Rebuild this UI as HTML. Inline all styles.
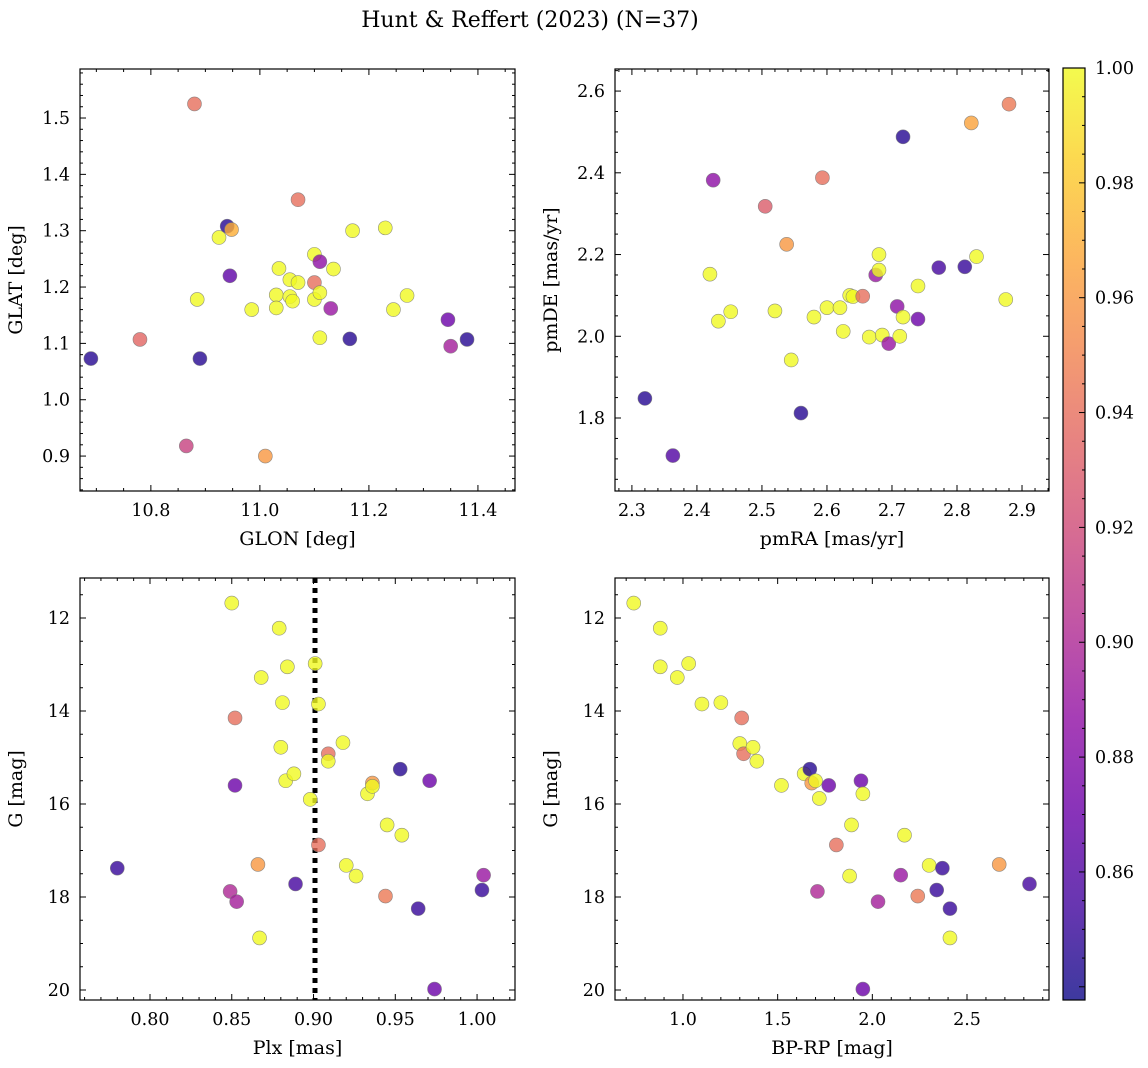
<!DOCTYPE html>
<html><head><meta charset="utf-8"><style>
html,body{margin:0;padding:0;background:#fff;}
svg{display:block;font-family:"DejaVu Serif","Liberation Serif",serif;}
</style></head><body>
<svg id="fig" width="1148" height="1068" viewBox="0 0 1148 1068" xmlns="http://www.w3.org/2000/svg">
<text x="530" y="27" font-size="22" text-anchor="middle">Hunt &amp; Reffert (2023) (N=37)</text>
</svg>
<script>
const glonX=[10.69,10.78,10.865,10.88,10.885,10.89,10.925,10.94,10.948,10.945,10.985,11.01,11.03,11.03,11.035,11.055,11.055,11.06,11.07,11.07,11.10,11.10,11.10,11.11,11.11,11.11,11.13,11.135,11.165,11.17,11.23,11.245,11.27,11.345,11.35,11.38];
const glatY=[1.073,1.107,0.918,1.525,1.178,1.073,1.288,1.308,1.302,1.220,1.160,0.900,1.186,1.163,1.233,1.183,1.213,1.175,1.355,1.208,1.208,1.178,1.258,1.245,1.190,1.110,1.162,1.232,1.108,1.300,1.305,1.160,1.185,1.142,1.095,1.107];
const probA=[0.845,0.935,0.915,0.94,1,0.845,1,0.845,0.97,0.865,1,0.96,1,1,1,1,1,1,0.94,1,0.94,1,1,0.885,1,1,0.89,1,0.845,1,1,1,1,0.87,0.895,0.845];

const pmraX=[2.32,2.363,2.42,2.425,2.433,2.452,2.505,2.52,2.538,2.545,2.56,2.58,2.593,2.60,2.62,2.625,2.635,2.64,2.655,2.665,2.675,2.68,2.68,2.685,2.695,2.708,2.712,2.717,2.717,2.740,2.740,2.772,2.812,2.822,2.83,2.875,2.880];
const pmdeY=[1.848,1.708,2.152,2.382,2.037,2.060,2.318,2.062,2.225,1.942,1.812,2.047,2.388,2.070,2.070,2.012,2.100,2.097,2.098,1.998,2.150,2.200,2.162,2.003,1.982,2.073,2.000,2.488,2.047,2.123,2.042,2.168,2.170,2.522,2.195,2.090,2.568];
const probB=[0.845,0.86,1,0.885,1,1,0.93,1,0.96,1,0.845,1,0.94,1,1,1,1,1,0.94,1,0.89,1,1,1,0.89,0.885,1,0.845,1,1,0.87,0.855,0.85,0.965,1,1,0.945];

const plxX=[0.780,0.850,0.849,0.852,0.852,0.853,0.866,0.867,0.868,0.879,0.880,0.881,0.883,0.884,0.888,0.889,0.898,0.901,0.903,0.903,0.909,0.909,0.918,0.920,0.926,0.933,0.936,0.936,0.944,0.945,0.953,0.954,0.964,0.971,0.974,1.003,1.004];
const gmagC=[17.38,11.68,17.88,14.15,15.60,18.10,17.30,18.88,13.28,12.22,14.78,13.82,15.50,13.05,15.35,17.72,15.90,12.98,13.85,16.88,14.92,15.08,14.68,17.32,17.55,15.78,15.55,15.62,17.98,16.45,15.25,16.67,18.25,15.50,19.98,17.85,17.53];
const probC=[0.85,1,0.9,0.94,0.87,0.895,0.96,1,1,1,1,1,1,1,1,0.855,1,1,1,0.94,0.94,1,1,1,1,1,0.96,1,0.945,1,0.845,1,0.85,0.87,0.87,0.85,0.89];
const plxMedian=0.9009;

const bprpX=[0.74,0.88,0.88,0.97,1.03,1.10,1.20,1.31,1.30,1.32,1.37,1.39,1.52,1.64,1.67,1.68,1.70,1.72,1.71,1.77,1.81,1.88,1.89,1.94,1.95,1.95,2.03,2.15,2.17,2.24,2.30,2.34,2.37,2.41,2.41,2.67,2.83];
const gmagD=[11.68,12.22,13.05,13.28,12.98,13.85,13.82,14.15,14.70,14.92,14.78,15.08,15.60,15.35,15.25,15.55,15.50,15.88,17.88,15.60,16.88,17.55,16.45,15.50,15.78,19.98,18.10,17.53,16.67,17.98,17.32,17.85,17.38,18.25,18.88,17.30,17.72];
const probD=[1,1,1,1,1,1,1,0.94,1,0.94,1,1,1,1,0.845,0.96,1,1,0.9,0.87,0.94,1,1,0.87,1,0.87,0.895,0.89,1,0.945,1,0.85,0.85,0.85,1,0.96,0.855];

const cbTicks=[0.86,0.88,0.90,0.92,0.94,0.96,0.98,1.00];
const CMIN=0.8377,CMAX=1.0;
const NS="http://www.w3.org/2000/svg";
const svg=document.getElementById('fig');
const stops=["#0d0887","#41049d","#6a00a8","#8f0da4","#b12a90","#cc4778","#e16462","#f2844b","#fca636","#fcce25","#f0f921"];
function hex(h){return [1,3,5].map(i=>parseInt(h.substr(i,2),16));}
function plasma(c){let t=(c-CMIN)/(CMAX-CMIN);t=Math.max(0,Math.min(1,t));const p=t*10,i=Math.min(9,Math.floor(p)),f=p-i;const a=hex(stops[i]),b=hex(stops[i+1]);return 'rgb('+a.map((v,k)=>Math.round(v+(b[k]-v)*f)).join(',')+')';}
function el(tag,attrs,parent){const e=document.createElementNS(NS,tag);for(const k in attrs)e.setAttribute(k,attrs[k]);(parent||svg).appendChild(e);return e;}
function fmt(v,d){return v.toFixed(d);}

function panel(o){
  const g=el('g',{});
  
  
  const sx=v=>o.x0+(v-o.xmin)/(o.xmax-o.xmin)*(o.x1-o.x0);
  const sy=o.invert? v=>o.y0+(v-o.ymin)/(o.ymax-o.ymin)*(o.y1-o.y0) : v=>o.y1-(v-o.ymin)/(o.ymax-o.ymin)*(o.y1-o.y0);
  function ticksAxis(step,nsub,min,max,isX,dec){
    const tg=el('g',{},g);
    
    
    const ms=step/nsub;
    const start=Math.ceil(min/ms-1e-6);
    for(let k=start;k*ms<=max+1e-9;k++){
      const v=k*ms;const major=Math.abs(k%nsub)===0;const L=major?6:3;
      if(isX){const x=sx(v);
        el('line',{x1:x,x2:x,y1:o.y1,y2:o.y1-L,stroke:'#000','stroke-width':1},tg);
        el('line',{x1:x,x2:x,y1:o.y0,y2:o.y0+L,stroke:'#000','stroke-width':1},tg);
        if(major){const t=el('text',{x:x,y:o.y1+25,'font-size':17.5,'text-anchor':'middle'},tg);t.textContent=fmt(v,dec);}
      }else{const y=sy(v);
        el('line',{y1:y,y2:y,x1:o.x0,x2:o.x0+L,stroke:'#000','stroke-width':1},tg);
        el('line',{y1:y,y2:y,x1:o.x1,x2:o.x1-L,stroke:'#000','stroke-width':1},tg);
        if(major){const t=el('text',{x:o.x0-10,y:y+6,'font-size':17.5,'text-anchor':'end'},tg);t.textContent=fmt(v,dec);}
      }
    }
  }
  ticksAxis(o.xstep,o.xsub,o.xmin,o.xmax,true,o.xdec);
  ticksAxis(o.ystep,o.ysub,Math.min(o.ymin,o.ymax),Math.max(o.ymin,o.ymax),false,o.ydec);
  if(o.vline!==undefined){
    const l=el('line',{x1:sx(o.vline),x2:sx(o.vline),y1:o.y0,y2:o.y1,stroke:'#000','stroke-width':5,'stroke-dasharray':'5,5'},g);
    
    
  }
  for(let i=0;i<o.xs.length;i++){
    const c=el('circle',{cx:sx(o.xs[i]),cy:sy(o.ys[i]),r:7,fill:plasma(o.cs[i]),'fill-opacity':0.8,stroke:'#777','stroke-width':0.6,'stroke-opacity':0.8},g);
    
    
  }
  const fr=el('rect',{x:o.x0,y:o.y0,width:o.x1-o.x0,height:o.y1-o.y0,fill:'none',stroke:'#000','stroke-width':1.2},g);
  
  
  const xt=el('text',{x:(o.x0+o.x1)/2,y:o.y1+54,'font-size':19,'text-anchor':'middle'},g);
  xt.textContent=o.xlabel;
  
  
  const yx=o.x0-58,yy=(o.y0+o.y1)/2;
  const yt=el('text',{x:yx,y:yy,'font-size':19,'text-anchor':'middle',transform:'rotate(-90 '+yx+' '+yy+')'},g);
  yt.textContent=o.ylabel;
  
  
}

panel({name:'glon-glat-panel',x0:80,x1:515,y0:69,y1:491,xmin:10.67,xmax:11.468,ymin:0.838,ymax:1.587,xstep:0.2,xsub:4,ystep:0.1,ysub:5,xdec:1,ydec:1,xs:glonX,ys:glatY,cs:probA,xlabel:'GLON [deg]',ylabel:'GLAT [deg]'});
panel({name:'proper-motion-panel',x0:615,x1:1049,y0:69,y1:491,xmin:2.274,xmax:2.9415,ymin:1.6214,ymax:2.654,xstep:0.1,xsub:5,ystep:0.2,ysub:4,xdec:1,ydec:1,xs:pmraX,ys:pmdeY,cs:probB,xlabel:'pmRA [mas/yr]',ylabel:'pmDE [mas/yr]'});
panel({name:'parallax-magnitude-panel',x0:80,x1:515,y0:578,y1:1000,xmin:0.7572,xmax:1.0232,ymin:11.14,ymax:20.215,invert:true,xstep:0.05,xsub:5,ystep:2,ysub:4,xdec:2,ydec:0,xs:plxX,ys:gmagC,cs:probC,xlabel:'Plx [mas]',ylabel:'G [mag]',vline:plxMedian});
panel({name:'color-magnitude-panel',x0:615,x1:1049,y0:578,y1:1000,xmin:0.641,xmax:2.933,ymin:11.14,ymax:20.215,invert:true,xstep:0.5,xsub:5,ystep:2,ysub:4,xdec:1,ydec:0,xs:bprpX,ys:gmagD,cs:probD,xlabel:'BP-RP [mag]',ylabel:'G [mag]'});

(function(){
  const x0=1063,x1=1085,y0=68,y1=1000;
  const cb=el('g',{});
  
  
  const defs=el('defs',{},cb);
  const lg=el('linearGradient',{id:'cbg',x1:0,y1:1,x2:0,y2:0},defs);
  for(let i=0;i<=20;i++){const c=CMIN+(CMAX-CMIN)*i/20;el('stop',{offset:(i/20),'stop-color':plasma(c)},lg);}
  el('rect',{x:x0,y:y0,width:x1-x0,height:y1-y0,fill:'url(#cbg)','fill-opacity':0.8},cb);
  el('rect',{x:x0,y:y0,width:x1-x0,height:y1-y0,fill:'none',stroke:'#000','stroke-width':1.2},cb);
  const sy=v=>y1-(v-CMIN)/(CMAX-CMIN)*(y1-y0);
  for(let k=Math.ceil(CMIN/0.005);k*0.005<=CMAX+1e-9;k++){
    const v=k*0.005;const major=(k%4===0);const y=sy(v);
    el('line',{x1:x1,x2:x1-(major?6:3),y1:y,y2:y,stroke:'#000','stroke-width':1},cb);
  }
  for(const v of cbTicks){const t=el('text',{x:x1+10,y:sy(v)+6,'font-size':17.5},cb);t.textContent=v.toFixed(2);}
})();
</script>
</body></html>
